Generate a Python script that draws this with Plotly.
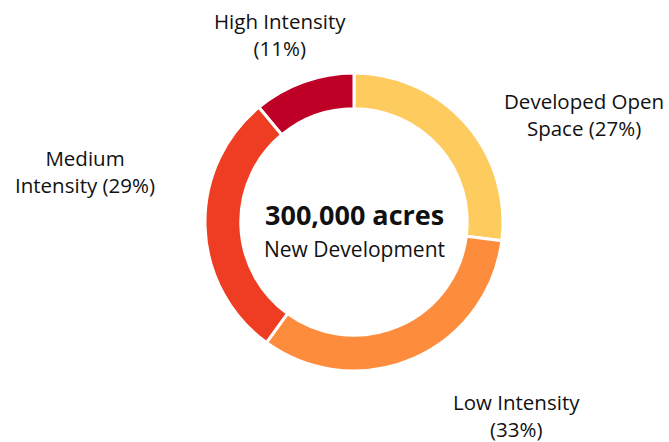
import plotly.graph_objects as go

categories = ["Developed Open Space", "Low Intensity", "Medium Intensity", "High Intensity"]
shares = [27, 33, 29, 11]
label_texts = ["Developed Open<br>Space (27%)", "Low Intensity<br>(33%)",
               "Medium<br>Intensity (29%)", "High Intensity<br>(11%)"]
colors = ["#FDCB5E", "#FD8C3C", "#EE3D22", "#BE0027"]
total_text = "300,000 acres"
sub_text = "New Development"

W, H = 669, 442
cx, cy, r = 354, 222, 149  # pixel center / radius

fig = go.Figure(go.Pie(
    labels=categories, values=shares, sort=False, direction="clockwise",
    rotation=0, hole=0.76, textinfo="none", hoverinfo="label+percent",
    marker=dict(colors=colors, line=dict(color="white", width=3)),
    domain=dict(x=[(cx - r) / W, (cx + r) / W],
                y=[(H - cy - r) / H, (H - cy + r) / H]),
    showlegend=False,
))

FAM = "Open Sans, sans-serif"
font = dict(family=FAM, size=20.5, color="#111111")
label_pos = [(584, 115), (516, 415), (85, 172), (280, 35)]
for txt, (x, y) in zip(label_texts, label_pos):
    fig.add_annotation(x=x / W, y=1 - y / H, xref="paper", yref="paper",
                       text=txt, showarrow=False, font=font, align="center",
                       xanchor="center", yanchor="middle")

fig.add_annotation(x=cx / W, y=1 - 214 / H, xref="paper", yref="paper",
                   text="<b>" + total_text + "</b>", showarrow=False,
                   font=dict(family=FAM, size=27, color="#111111"))
fig.add_annotation(x=cx / W, y=1 - 249 / H, xref="paper", yref="paper",
                   text=sub_text, showarrow=False,
                   font=dict(family=FAM, size=21, color="#111111"))

fig.update_layout(width=W, height=H, margin=dict(l=0, r=0, t=0, b=0),
                  paper_bgcolor="white", plot_bgcolor="white")
fig.write_html("out.html", config={"displayModeBar": False},
               post_script="document.body.style.margin='0';document.body.style.overflow='hidden';")
